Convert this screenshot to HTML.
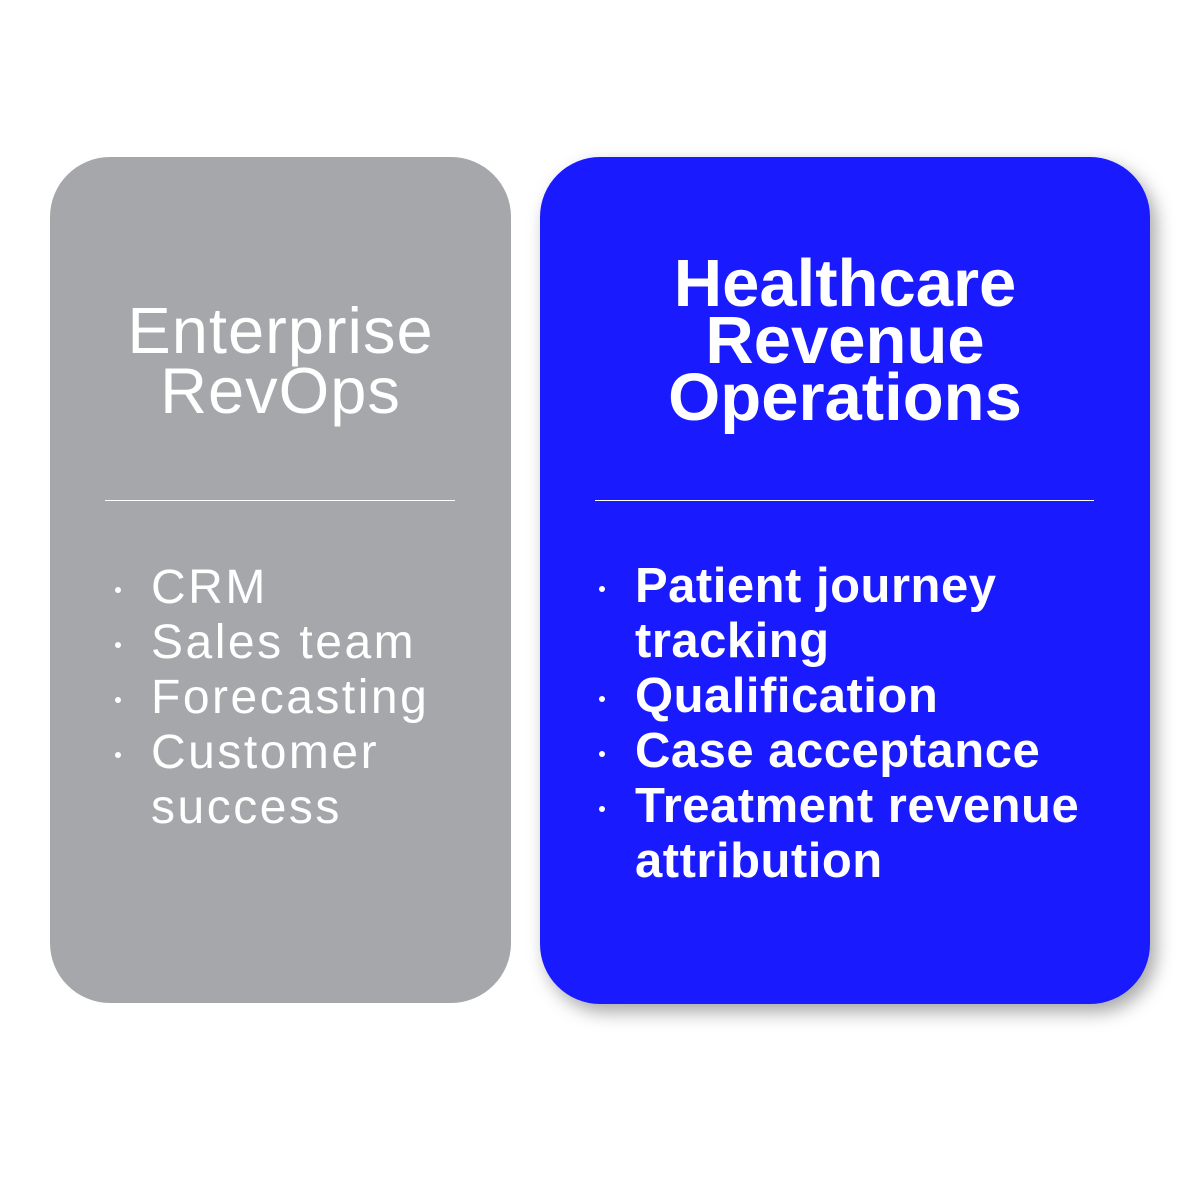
<!DOCTYPE html>
<html><head><style>
body{margin:0;width:1200px;height:1200px;background:#fff;position:relative;font-family:"Liberation Sans",sans-serif;color:#fff;overflow:hidden}
.card{position:absolute;border-radius:60px}
#g{left:50px;top:157px;width:461px;height:846px;background:#a6a7aa}
#b{left:540px;top:157px;width:610px;height:847px;background:#1a1aff;box-shadow:6px 8px 18px rgba(0,0,0,.35)}
.t{position:absolute;text-align:center;width:100%}
.hr{position:absolute;height:1px;background:#fff}
ul{position:absolute;margin:0;padding:0;list-style:none}
li{position:relative;padding-left:0}
li:before{content:"";position:absolute;left:-36px;top:27px;width:6px;height:6px;border-radius:50%;background:#fff}
</style></head><body>
<div class="card" id="g">
 <div class="t" style="top:144px;font-size:65px;line-height:60px;letter-spacing:1px">Enterprise<br>RevOps</div>
 <div class="hr" style="left:55px;width:350px;top:343px"></div>
 <ul style="left:101px;top:403px;font-size:48px;line-height:55px;letter-spacing:2.5px">
  <li>CRM</li><li>Sales team</li><li>Forecasting</li><li>Customer<br>success</li>
 </ul>
</div>
<div class="card" id="b">
 <div class="t" style="top:98px;font-size:67px;line-height:57px;font-weight:bold">Healthcare<br>Revenue<br>Operations</div>
 <div class="hr" style="left:55px;width:499px;top:343px"></div>
 <ul style="left:95px;top:402px;font-size:49px;line-height:55px;font-weight:bold;letter-spacing:0.5px">
  <li>Patient journey<br>tracking</li><li>Qualification</li><li>Case acceptance</li><li>Treatment revenue<br>attribution</li>
 </ul>
</div>
</body></html>
